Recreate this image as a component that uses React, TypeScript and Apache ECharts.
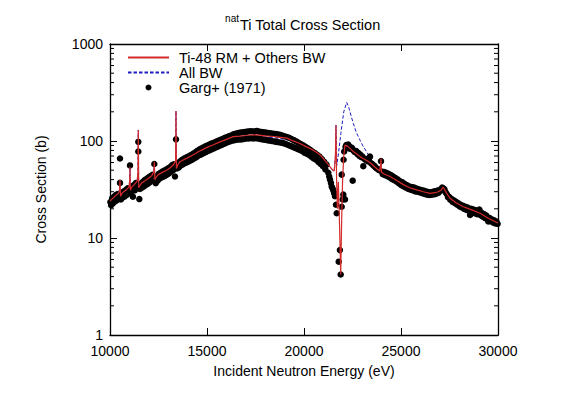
import React, { useEffect, useRef } from 'react';
import * as echarts from 'echarts';

// Ti-48 RM + Others BW (red solid)
const rmEnergy = [10000, 10150, 10300, 10430, 10490, 10515, 10545, 10600, 10700, 10850, 10980, 11020, 11031, 11050, 11120, 11250, 11400, 11440, 11459, 11480, 11550, 11634, 11800, 11974, 12150, 12260, 12284, 12310, 12400, 12490, 12700, 12923, 13100, 13263, 13380, 13402, 13425, 13500, 13608, 13800, 14000, 14300, 14552, 14800, 15000, 15300, 15670, 16000, 16356, 16700, 17000, 17387, 17700, 18000, 18300, 18600, 19108, 19400, 19700, 20139, 20500, 20825, 21000, 21253, 21450, 21560, 21620, 21649, 21680, 21720, 21770, 21830, 21892, 21940, 21990, 22050, 22113, 22250, 22400, 22541, 22700, 22887, 23050, 23232, 23402, 23650, 23900, 23950, 23970, 23990, 24100, 24433, 24800, 25120, 25450, 25809, 26150, 26495, 26750, 26924, 27080, 27180, 27350, 27526, 27850, 28213, 28650, 29072, 29500, 30000];
const rmXs = [24.0, 25.8, 27.5, 28.8, 31, 39.6, 27, 28.5, 30.0, 31.5, 33.5, 40, 54, 31, 33.5, 35.5, 38.5, 48, 130, 33, 35, 37, 39, 41, 44, 48, 61, 40, 43, 45, 47.5, 50, 53, 56.6, 62, 204, 52, 57, 61, 64, 67, 72, 77.6, 82, 86, 91, 98, 104, 111, 112.5, 114, 116, 115, 113, 112, 110.5, 107, 101, 96, 87, 80, 72, 66, 57, 51, 49, 70, 146, 40, 20, 38, 14, 4.2, 15, 40, 70, 91, 88, 83, 78, 74, 69, 66, 63, 60, 54, 49, 58, 66, 48, 46, 43, 39, 35.5, 33, 31.3, 30, 28.8, 29.3, 30, 31.5, 33.4, 29, 25.7, 23, 21, 19.5, 18, 16, 14.3];

// All BW (blue dashed)
const bwEnergy = [10000, 10150, 10300, 10430, 10490, 10515, 10545, 10600, 10700, 10850, 10980, 11020, 11031, 11050, 11120, 11250, 11400, 11440, 11459, 11480, 11550, 11634, 11800, 11974, 12150, 12260, 12284, 12310, 12400, 12490, 12700, 12923, 13100, 13263, 13380, 13402, 13425, 13500, 13608, 13800, 14000, 14300, 14552, 14800, 15000, 15300, 15670, 16000, 16356, 16700, 17000, 17387, 17700, 18000, 18300, 18600, 19108, 19400, 19700, 20139, 20500, 20825, 21000, 21253, 21450, 21560, 21620, 21649, 21690, 21780, 21900, 22050, 22200, 22300, 22450, 22541, 22700, 22887, 23050, 23232, 23402, 23650, 23900, 23950, 23970, 23990, 24100, 24433, 24800, 25120, 25450, 25809, 26150, 26495, 26750, 26924, 27080, 27180, 27350, 27526, 27850, 28213, 28650, 29072, 29500, 30000];
const bwXs = [24.5, 26.2, 28.0, 29.3, 31.5, 39.6, 27.5, 29, 30.5, 32, 34, 40.5, 54, 31.5, 34, 36, 39, 48.5, 130, 33.5, 35.5, 37.5, 39.5, 41.5, 44.5, 48.5, 61, 40.5, 43.5, 45.5, 48, 50.5, 53.5, 57, 62.5, 204, 52.5, 57.5, 61.5, 64.5, 67.5, 72, 77, 81.5, 85, 90, 96.5, 102.5, 109, 110.5, 112, 113.5, 112, 110, 108.5, 107, 103, 97.5, 92.5, 84, 77, 69.5, 64, 56, 50.5, 49, 70, 146, 56, 75, 120, 200, 250, 225, 175, 152, 122, 102, 88, 77, 68, 57, 50, 58, 66, 48, 46, 43, 39, 35.5, 33, 31.3, 30, 28.8, 29.3, 30, 31.5, 33.4, 29, 25.7, 23, 21, 19.5, 18, 16, 14.3];

// Garg+ (1971) measured points
const gargEnergy = [10020, 10060, 10110, 10160, 10210, 10260, 10310, 10360, 10410, 10460, 10515, 10515, 10560, 10610, 10660, 10710, 10760, 10810, 10860, 10910, 10960, 11031, 11080, 11130, 11180, 11230, 11280, 11330, 11380, 11459, 11459, 11511, 11540, 11590, 11640, 11690, 11740, 11790, 11840, 11890, 11940, 11990, 12040, 12090, 12140, 12190, 12284, 12356, 12400, 12450, 12500, 12550, 12600, 12650, 12700, 12750, 12800, 12850, 12900, 12950, 13000, 13050, 13100, 13150, 13200, 13250, 13300, 13350, 13402, 13450, 13500, 13550, 13600, 13650, 13700, 13750, 13800, 13850, 13900, 13950, 14000, 14050, 14100, 14150, 14200, 14250, 14300, 14350, 14400, 14450, 14500, 14550, 14600, 14650, 14700, 14750, 14800, 14850, 14900, 14950, 15000, 15050, 15100, 15150, 15200, 15250, 15300, 15350, 15400, 15450, 15500, 15550, 15600, 15650, 15700, 15750, 15800, 15850, 15900, 15950, 16000, 16060, 16120, 16180, 16240, 16300, 16360, 16420, 16480, 16540, 16600, 16660, 16720, 16780, 16840, 16900, 16960, 17020, 17080, 17140, 17200, 17260, 17320, 17380, 17440, 17500, 17560, 17620, 17680, 17740, 17800, 17860, 17920, 17980, 18040, 18100, 18160, 18220, 18280, 18340, 18400, 18460, 18520, 18580, 18640, 18700, 18760, 18820, 18880, 18940, 19000, 19060, 19120, 19180, 19240, 19300, 19360, 19420, 19480, 19540, 19600, 19660, 19720, 19780, 19840, 19900, 19960, 20020, 20080, 20140, 20200, 20260, 20320, 20380, 20440, 20500, 20560, 20620, 20680, 20740, 20800, 20860, 20920, 20980, 21040, 21100, 21160, 21253, 21300, 21340, 21390, 21427, 21470, 21510, 21555, 21598, 21649, 21685, 21790, 21850, 21892, 21943, 21943, 21995, 22026, 22040, 22070, 22113, 22140, 22180, 22230, 22280, 22330, 22371, 22420, 22470, 22510, 22560, 22610, 22660, 22716, 22760, 22810, 22860, 22910, 22960, 23010, 23056, 23100, 23160, 23220, 23280, 23340, 23402, 23460, 23520, 23580, 23640, 23700, 23760, 23820, 23880, 23970, 24000, 24060, 24120, 24180, 24240, 24300, 24360, 24420, 24480, 24540, 24600, 24660, 24720, 24780, 24840, 24900, 24960, 25020, 25080, 25140, 25200, 25260, 25320, 25380, 25440, 25500, 25560, 25620, 25680, 25740, 25800, 25860, 25920, 25980, 26040, 26100, 26160, 26220, 26280, 26340, 26400, 26460, 26520, 26580, 26640, 26700, 26760, 26820, 26880, 26940, 27000, 27060, 27120, 27180, 27240, 27300, 27360, 27420, 27480, 27540, 27600, 27660, 27720, 27780, 27840, 27900, 27960, 28020, 28080, 28140, 28200, 28260, 28320, 28380, 28440, 28500, 28560, 28620, 28680, 28740, 28800, 28860, 28920, 28980, 29040, 29100, 29160, 29220, 29280, 29340, 29400, 29460, 29500, 29560, 29620, 29680, 29740, 29800, 29860, 29920, 29980];
const gargXs = [23.5, 21.8, 25.6, 22.9, 26.8, 23.8, 27.9, 24.6, 28.4, 25.9, 37, 66, 25.0, 29.0, 26.2, 30.2, 26.9, 31.2, 27.8, 32.6, 29.0, 56, 29.8, 33.9, 26.7, 35.2, 31.0, 36.8, 32.6, 98, 78, 25.2, 32.0, 36.4, 33.0, 38.0, 34.0, 39.6, 35.2, 40.8, 36.0, 42.2, 37.4, 43.6, 38.9, 44.8, 58, 36.7, 41.8, 39.0, 45.6, 40.8, 46.9, 42.0, 48.4, 42.9, 49.6, 44.0, 50.8, 45.2, 52.4, 46.6, 54.0, 48.4, 56.4, 50.0, 57.6, 43, 104, 52.0, 58.0, 53.5, 61.5, 56.0, 63.5, 57.5, 65.5, 59.0, 67.0, 60.0, 68.5, 61.5, 70.5, 63.0, 72.0, 64.5, 74.0, 66.5, 76.5, 68.0, 79.0, 70.5, 81.5, 72.0, 83.5, 73.5, 85.5, 75.5, 87.5, 77.0, 89.5, 79.0, 91.5, 80.5, 93.5, 82.5, 95.0, 84.0, 97.0, 86.0, 99.0, 87.5, 101, 89.5, 103, 91.0, 105, 93, 107, 95, 109, 97, 112, 99, 114, 101, 117, 102, 119, 103, 121, 104, 122, 104, 123, 105, 124, 106, 125, 106, 126, 107, 126, 106, 125, 107, 127, 106, 125, 105, 124, 104, 123, 103, 122, 102, 121, 101, 120, 100, 119, 99, 118, 98, 117, 97, 116, 96, 114, 95, 112, 93, 110, 91, 108, 89, 105, 87, 102, 85, 99, 83, 96, 81, 93, 79, 90, 76, 87, 74, 84, 72, 81, 69, 78, 66, 75, 64, 72, 61, 69, 58, 65, 55, 61, 51, 57, 47, 43, 40, 37, 34, 32.5, 31, 29, 27, 22, 18, 5.7, 7.5, 4.2, 21, 45, 25, 28, 64, 78, 25, 87, 91, 86, 92, 84, 87, 83, 85, 39, 80, 77, 79, 78, 73, 75, 70, 72, 68, 69, 55, 66, 64, 65, 62, 62, 69, 59, 58, 56, 55, 53, 52, 51, 50, 62, 48.5, 45.5, 48, 44.5, 47, 43.5, 46, 42, 44.5, 40.5, 43, 39.5, 41.5, 38, 40, 36.5, 38.5, 35, 37.5, 34, 36, 33, 35, 32, 34, 31.5, 33.6, 31, 33.2, 30.2, 32.4, 30, 31.8, 29.5, 31.2, 29, 30.8, 28.5, 30.3, 28.0, 29.8, 27.8, 29.6, 28, 30, 28.2, 30.4, 28.6, 30.8, 29.4, 31.4, 31, 33.2, 32.6, 31.8, 29.6, 28.4, 26.4, 26.6, 24.8, 25.4, 23.6, 24.4, 22.8, 23.6, 22.0, 22.8, 21.2, 22.0, 20.6, 21.5, 19.9, 21.0, 19.5, 20.6, 19.2, 17.3, 20, 18.6, 19.6, 18.0, 19.3, 17.6, 18.8, 19.6, 17.2, 18.2, 16.6, 17.6, 16.0, 17.0, 15.6, 14.8, 16.1, 14.9, 15.6, 14.5, 15.2, 14.1, 14.8, 14.0];

const xMin = 10000;
const xMax = 30000;
const xStep = 5000;
const yMin = 1;
const yMax = 1000;
const yMinorTicks = [2, 3, 4, 5, 6, 7, 8, 9, 20, 30, 40, 50, 60, 70, 80, 90, 200, 300, 400, 500, 600, 700, 800, 900];

const seriesNames = ['Ti-48 RM + Others BW', 'All BW', 'Garg+ (1971)'];

const FONT = '"Liberation Sans", Arial, Helvetica, sans-serif';

export default function App() {
  const ref = useRef<HTMLDivElement>(null);
  useEffect(() => {
    if (!ref.current) return;
    const chart = echarts.init(ref.current, null, { renderer: 'svg' });
    const zip = (a: number[], b: number[]) => a.map((v, i) => [v, b[i]]);
    const axisLine = { show: true, lineStyle: { color: '#000', width: 1.3 } };
    const plain = (v: number) => String(v);
    const option: any = {
      animation: false,
      backgroundColor: '#fff',
      textStyle: { fontFamily: FONT },
      grid: { left: 110, right: 65, top: 44, bottom: 59, containLabel: false },
      graphic: [
        { type: 'text', x: 239, y: 18, style: { text: 'nat', fontSize: 10, fontFamily: FONT, fill: '#000', align: 'right', verticalAlign: 'middle' } },
        { type: 'text', x: 240, y: 25, style: { text: 'Ti Total Cross Section', fontSize: 14.5, fontFamily: FONT, fill: '#000', align: 'left', verticalAlign: 'middle' } },
      ],
      legend: {
        data: [
          { name: seriesNames[0], itemStyle: { opacity: 0 } },
          { name: seriesNames[1], itemStyle: { opacity: 0 } },
          { name: seriesNames[2] },
        ],
        orient: 'vertical',
        left: 127,
        top: 50,
        itemWidth: 41,
        itemHeight: 6,
        itemGap: 0,
        padding: 0,
        textStyle: { fontSize: 14.5, fontFamily: FONT, color: '#000', lineHeight: 15, padding: [0, 0, 0, 5] },
      },
      xAxis: [
        {
          type: 'value', min: xMin, max: xMax, interval: xStep, position: 'bottom',
          name: 'Incident Neutron Energy (eV)', nameLocation: 'middle', nameGap: 29,
          nameTextStyle: { fontSize: 14, color: '#000', fontFamily: FONT },
          axisLine, axisTick: { show: true, inside: true, length: 7, lineStyle: { color: '#000', width: 1 } },
          axisLabel: { fontSize: 14, color: '#000', margin: 9, fontFamily: FONT, formatter: plain },
          splitLine: { show: false },
        },
        {
          type: 'value', min: xMin, max: xMax, interval: xStep, position: 'top',
          axisLine, axisTick: { show: true, inside: true, length: 7, lineStyle: { color: '#000', width: 1 } },
          axisLabel: { show: false }, splitLine: { show: false },
        },
      ],
      yAxis: [
        {
          type: 'log', logBase: 10, min: yMin, max: yMax, position: 'left',
          name: 'Cross Section (b)', nameLocation: 'middle', nameGap: 62,
          nameTextStyle: { fontSize: 14, color: '#000', fontFamily: FONT },
          axisLine, axisTick: { show: true, inside: true, length: 7, lineStyle: { color: '#000', width: 1 } },
          axisLabel: { fontSize: 14, color: '#000', margin: 7, fontFamily: FONT, formatter: plain },
          splitLine: { show: false }, minorTick: { show: false },
        },
        {
          type: 'log', logBase: 10, min: yMin, max: yMax, position: 'right',
          axisLine, axisTick: { show: true, inside: true, length: 7, lineStyle: { color: '#000', width: 1 } },
          axisLabel: { show: false }, splitLine: { show: false },
        },
      ],
      series: [
        {
          name: seriesNames[1], type: 'line', data: zip(bwEnergy, bwXs), symbol: 'none', showSymbol: false,
          lineStyle: { color: '#1c1cc0', width: 1, type: [3.5, 2] }, itemStyle: { color: '#1c1cc0' }, z: 2,
        },
        {
          name: seriesNames[2], type: 'scatter', data: zip(gargEnergy, gargXs), symbol: 'circle', symbolSize: 6.5,
          itemStyle: { color: '#000', opacity: 1 }, z: 3,
        },
        {
          name: seriesNames[0], type: 'line', data: zip(rmEnergy, rmXs), symbol: 'none', showSymbol: false,
          lineStyle: { color: '#d42a2a', width: 1.2 }, itemStyle: { color: '#d42a2a' }, z: 4,
        },
        {
          type: 'custom', silent: true, z: 5,
          data: yMinorTicks.map((v) => [xMin, v]),
          renderItem: (params: any, api: any) => {
            const p = api.coord([xMin, api.value(1)]);
            const cs = params.coordSys;
            const st = { stroke: '#000', lineWidth: 1 };
            return {
              type: 'group',
              children: [
                { type: 'line', shape: { x1: cs.x, y1: p[1], x2: cs.x + 4, y2: p[1] }, style: st },
                { type: 'line', shape: { x1: cs.x + cs.width - 4, y1: p[1], x2: cs.x + cs.width, y2: p[1] }, style: st },
              ],
            };
          },
        },
      ],
    };
    chart.setOption(option);
    return () => chart.dispose();
  }, []);
  return <div ref={ref} style={{ position: 'fixed', left: 0, top: 0, width: 563, height: 394, background: '#fff' }} />;
}
